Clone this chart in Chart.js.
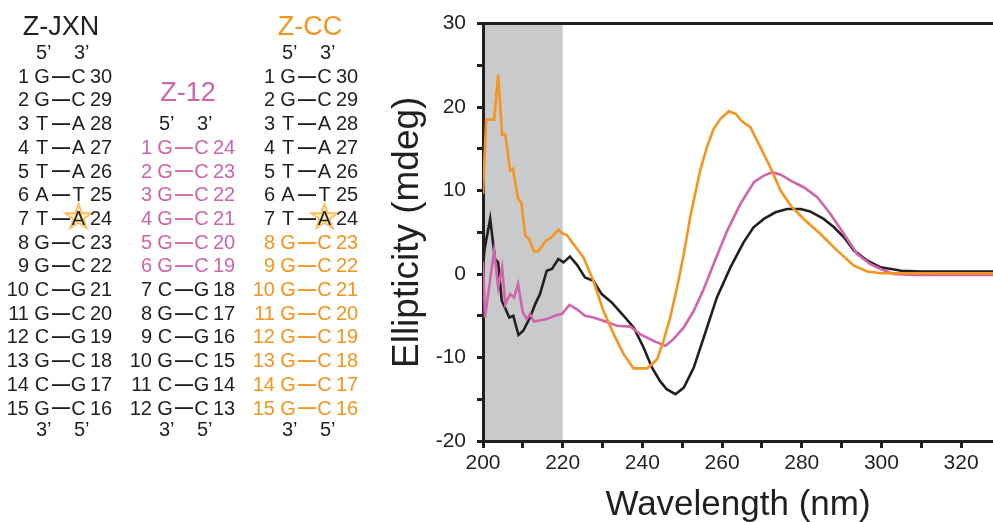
<!DOCTYPE html>
<html>
<head>
<meta charset="utf-8">
<script src="https://cdn.jsdelivr.net/npm/chart.js@4/dist/chart.umd.min.js"></script>
<style>
  html, body { margin: 0; padding: 0; background: #fff; }
  body { width: 993px; height: 522px; position: relative; overflow: hidden;
         font-family: 'Liberation Sans', Arial, Helvetica, sans-serif; color: #231f20; }
  #cd { position: absolute; left: 0; top: 0; }
  .t { position: absolute; white-space: nowrap; line-height: 1; z-index: 2; }
  .dash { font-weight: bold; }
  .star { position: absolute; z-index: 1;
          clip-path: polygon(50% 0%, 62% 35%, 98% 36%, 69% 58%, 80% 93%, 50% 72%, 20% 93%, 31% 58%, 2% 36%, 38% 35%); }
</style>
</head>
<body>
<canvas id="cd" width="993" height="522"></canvas>
<div id="panel"></div>
<script>
const INK = '#231f20';
const ORANGE = '#f7941d';
const PINK = '#d064ad';
const FONT = "'Liberation Sans', Arial, Helvetica, sans-serif";

// --- CD spectra (wavelength nm, ellipticity mdeg) ---
const zccX = [200, 200.8, 202.8, 203.8, 204.8, 205.6, 206.8, 207.5, 208.8, 209.6, 210.6, 211.6, 212.8, 213.8, 215.8, 217.2, 218.9, 220.2, 221, 222.7, 225.2, 227.7, 230.2, 232.8, 235.3, 237.8, 241.2, 243.7, 245.3, 247, 248.7, 250.4, 252, 254.5, 256.2, 257.9, 259.6, 261.7, 263.4, 265, 267.1, 269.6, 272.1, 274.7, 277.2, 280.5, 284.7, 288.9, 293.1, 296.4, 300, 305, 310, 315, 320, 328];
const zccY = [9.6, 18.5, 18.5, 23.9, 16.7, 16.7, 12.4, 12.6, 9.0, 8.6, 4.6, 4.2, 2.7, 2.7, 4.0, 4.4, 5.3, 4.8, 4.7, 3.6, 2.0, -0.8, -4.4, -7.2, -9.6, -11.3, -11.3, -10.2, -8.0, -5.2, -1.6, 2.4, 6.8, 12.4, 15.2, 17.4, 18.6, 19.5, 19.2, 18.3, 17.6, 15.2, 12.8, 10.0, 8.2, 6.6, 4.8, 2.8, 1.0, 0.3, 0.1, 0.1, 0.1, 0.1, 0.1, 0.1];

const jxnX = [200, 200.4, 201.8, 203, 203.8, 204.7, 205.5, 206.6, 207.6, 208.9, 210.1, 211.8, 213.1, 214.3, 216, 217.3, 218.9, 220.2, 221.8, 223.6, 225.6, 227.7, 229.8, 232.3, 235.3, 237.8, 240.3, 242.4, 244.4, 246.1, 248.3, 250.4, 252.9, 255.4, 258.7, 262.1, 265.4, 267.9, 270.5, 273.4, 276.3, 279.7, 282.1, 285.5, 288.1, 290.6, 293.1, 296.5, 299.8, 305, 310, 315, 320, 328];
const jxnY = [1.0, 3.0, 6.6, 1.8, 1.4, -3.2, -4.0, -5.2, -5.0, -7.3, -6.8, -5.2, -3.6, -2.4, 0.4, 0.6, 1.8, 1.4, 2.1, 1.1, -0.4, -0.8, -2.4, -3.4, -5.0, -6.4, -8.8, -11.2, -12.8, -13.8, -14.4, -13.6, -11.2, -7.6, -2.8, 0.8, 3.8, 5.6, 6.6, 7.4, 7.8, 7.8, 7.5, 6.6, 5.6, 4.4, 2.8, 1.6, 0.8, 0.4, 0.3, 0.3, 0.3, 0.3];

const z12X = [200, 200.5, 202.8, 203.8, 204.8, 205.6, 206.8, 207.8, 208.8, 210, 211, 211.8, 212.8, 216, 218.5, 219.8, 221.7, 223.5, 225.6, 227.7, 230.2, 233.6, 237, 239.4, 242.8, 245.8, 247.8, 250.4, 252.9, 255.4, 258.2, 261.3, 264.6, 268, 270.5, 272.6, 274.7, 277.2, 280.5, 283.9, 287.2, 290.6, 293.9, 297.2, 299.8, 303, 308, 315, 320, 328];
const z12Y = [1.5, -5.2, 2.8, -1.6, 0.8, -3.6, -2.4, -2.8, -1.2, -4.6, -5.4, -4.8, -5.7, -5.4, -4.9, -4.8, -3.7, -4.2, -5.0, -5.2, -5.6, -6.2, -6.3, -7.2, -8.0, -8.6, -7.8, -6.4, -4.4, -1.8, 1.6, 5.2, 8.4, 11.0, 11.8, 12.2, 11.9, 11.2, 10.4, 9.2, 7.2, 4.8, 2.4, 1.2, 0.6, 0.0, -0.1, -0.1, -0.1, -0.1];

const SHADE = [200, 220];

// --- duplex sequences ---
const jxnTop = 'GGTTTATGGCGCGCG';
const jxnBot = 'CCAAATACCGCGCGC';
const z12Top = 'GGGGGGCGCGCG';
const z12Bot = 'CCCCCCGCGCGC';
const zccTop = 'GGTTTATGGGGGGGG';
const zccBot = 'CCAAATACCCCCCCC';

// --- left panel ---
const panel = document.getElementById('panel');
function put(text, x, y, size, color, align, cls) {
  const d = document.createElement('div');
  d.className = 't' + (cls ? ' ' + cls : '');
  d.textContent = text;
  d.style.fontSize = size + 'px';
  d.style.color = color;
  d.style.left = x + 'px';
  d.style.top = (y - 0.49 * size) + 'px';
  if (align === 'c') d.style.transform = 'translateX(-50%)';
  if (align === 'r') d.style.transform = 'translateX(-100%)';
  panel.appendChild(d);
}
function star(cx, cy) {
  const layers = [[34, '#fbd79a'], [30, '#f6b95c'], [23, '#fde7a0'], [16, '#fff3b8']];
  for (const [s, col] of layers) {
    const d = document.createElement('div');
    d.className = 'star';
    Object.assign(d.style, { left: (cx - s / 2) + 'px', top: (cy - s / 2 - 1) + 'px', width: s + 'px', height: (s * 0.96) + 'px', background: col });
    panel.appendChild(d);
  }
}

const ROW0 = 75.5, STEP = 23.7, FS = 20;
function duplex(R, first, top, bot, n0, n1, colorOf) {
  const yH = ROW0 + (first - 1) * STEP;
  put('5\u2019', R + 7, yH, FS, INK, 'l');
  put('3\u2019', R + 45, yH, FS, INK, 'l');
  for (let i = 0; i < top.length; i++) {
    const y = ROW0 + (first + i) * STEP;
    const c = colorOf(i);
    put(String(n0 + i), R, y, FS, c, 'r');
    put(top[i], R + 13, y, FS, c, 'c');
    put('\u2014', R + 32, y, 18, c, 'c', 'dash');
    put(bot[i], R + 49.5, y, FS, c, 'c');
    put(String(n1 - i), R + 61, y, FS, c, 'l');
  }
  const yF = ROW0 + (first + top.length) * STEP - 2;
  put('3\u2019', R + 7, yF, FS, INK, 'l');
  put('5\u2019', R + 45, yF, FS, INK, 'l');
}

put('Z-JXN', 61, 26, 27, INK, 'c');
put('Z-12', 188, 92, 27, PINK, 'c');
put('Z-CC', 310, 26, 27, ORANGE, 'c');
star(78.5, 218.5);
star(324.5, 218.5);
duplex(29, 0, jxnTop, jxnBot, 1, 30, () => INK);
duplex(152, 3, z12Top, z12Bot, 1, 24, i => i < 6 ? PINK : INK);
duplex(275, 0, zccTop, zccBot, 1, 30, i => i < 7 ? INK : ORANGE);

// --- chart ---
const shade = {
  id: 'shade',
  beforeDraw(chart) {
    const { ctx, chartArea: a, scales: { x } } = chart;
    const x0 = x.getPixelForValue(SHADE[0]);
    const x1 = x.getPixelForValue(SHADE[1]);
    ctx.save();
    ctx.fillStyle = '#c9cacc';
    ctx.fillRect(x0, a.top, x1 - x0, a.bottom - a.top);
    ctx.restore();
  }
};

const pts = (xs, ys) => xs.map((x, i) => ({ x, y: ys[i] }));
const line = (data, color) => ({ data, borderColor: color, borderWidth: 2.6, pointRadius: 0, tension: 0, fill: false });

Chart.defaults.font.family = FONT;
Chart.defaults.color = INK;

new Chart(document.getElementById('cd').getContext('2d'), {
  type: 'line',
  data: {
    datasets: [
      line(pts(zccX, zccY), ORANGE),
      line(pts(z12X, z12Y), PINK),
      line(pts(jxnX, jxnY), INK),
    ],
  },
  options: {
    responsive: false,
    animation: false,
    devicePixelRatio: 1,
    layout: { padding: { left: 382, top: 23, right: 0, bottom: 0 } },
    plugins: { legend: { display: false }, tooltip: { enabled: false } },
    scales: {
      x: {
        type: 'linear', min: 200, max: 328,
        border: { display: true, color: INK, width: 3 },
        grid: { drawOnChartArea: false, drawTicks: true, tickLength: 7, tickWidth: 3, tickColor: INK },
        ticks: { stepSize: 10, includeBounds: false, autoSkip: false, maxRotation: 0, padding: 3,
                 color: INK, font: { size: 21 }, callback: v => v % 20 === 0 ? String(v) : '' },
        title: { display: true, text: 'Wavelength (nm)', color: INK, font: { size: 35 }, padding: { top: 0, bottom: -4 } },
        afterFit: s => { s.height = 81; },
      },
      y: {
        type: 'linear', min: -20, max: 30,
        border: { display: true, color: INK, width: 3 },
        grid: { drawOnChartArea: true, lineWidth: 3, color: c => c.tick && c.tick.value === 30 ? INK : 'rgba(0,0,0,0)',
                drawTicks: true, tickLength: 6, tickWidth: 3, tickColor: INK },
        ticks: { stepSize: 5, padding: 11, color: INK, font: { size: 21 }, callback: v => v % 10 === 0 ? String(v) : '' },
        title: { display: true, text: 'Ellipticity (mdeg)', color: INK, font: { size: 37 }, padding: { top: 4, bottom: 0 } },
        afterFit: s => { s.width = 101; },
      },
    },
  },
  plugins: [shade],
});
</script>
</body>
</html>
